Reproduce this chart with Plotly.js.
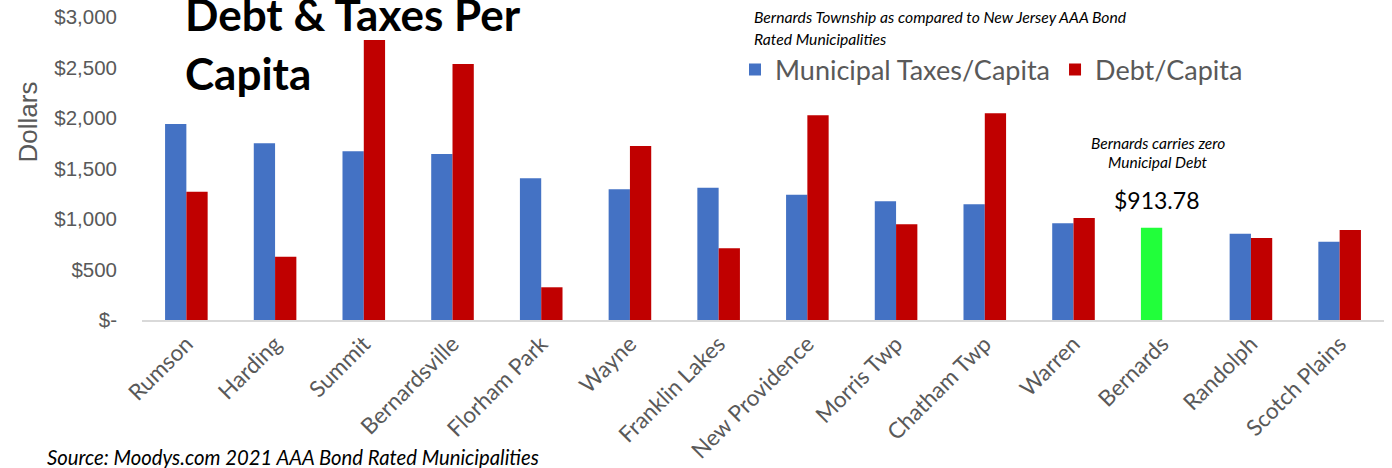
<!DOCTYPE html>
<html>
<head>
<meta charset="utf-8">
<script src="https://cdn.plot.ly/plotly-3.0.1.min.js"></script>
<style>html,body{margin:0;padding:0;background:#fff;}#chart{width:1392px;height:468px;}</style>
</head>
<body>
<div id="chart"></div>
<script>
const categories = ["Rumson","Harding","Summit","Bernardsville","Florham Park","Wayne","Franklin Lakes","New Providence","Morris Twp","Chatham Twp","Warren","Bernards","Randolph","Scotch Plains"];
const taxesPerCapita = [1940, 1750, 1670, 1644, 1403, 1294, 1310, 1241, 1175, 1146, 957, 913.78, 855, 775];
const debtPerCapita  = [1270, 627, 2772, 2535, 324, 1723, 710, 2027, 947, 2046, 1010, 0, 812, 891];
const yTickVals = [0, 500, 1000, 1500, 2000, 2500, 3000];
const yTickText = ["$-", "$500", "$1,000", "$1,500", "$2,000", "$2,500", "$3,000"];
const highlightTown = "Bernards";

const BLUE = "#4472C4", RED = "#C00000", GREEN = "#21FF3A";
const taxColors = categories.map(c => c === highlightTown ? GREEN : BLUE);

// plot area in pixels
const L = 142, R = 1384, T = 17, B = 320;
const px = x => (x - L) / (R - L);
const py = y => (B - y) / (B - T);

const traces = [
  {type: "bar", name: "Municipal Taxes/Capita", x: categories, y: taxesPerCapita,
   marker: {color: taxColors, line: {width: 0}}, hoverinfo: "x+y"},
  {type: "bar", name: "Debt/Capita", x: categories, y: debtPerCapita,
   marker: {color: RED, line: {width: 0}}, hoverinfo: "x+y"}
];

const gray = "#595959";
const hi = categories.indexOf(highlightTown);
const layout = {
  width: 1392, height: 468,
  margin: {l: L, r: 1392 - R, t: T, b: 468 - B, pad: 0},
  paper_bgcolor: "#fff", plot_bgcolor: "#fff",
  barmode: "group", bargap: 0.52, bargroupgap: 0,
  showlegend: true,
  legend: {orientation: "h", x: px(735), xanchor: "left", y: py(70), yanchor: "middle",
           font: {family: "Lato, sans-serif", size: 27, color: gray}, bgcolor: "rgba(0,0,0,0)",
           traceorder: "normal"},
  xaxis: {type: "category", showgrid: false, zeroline: false, showline: true,
          linecolor: "#d9d9d9", linewidth: 2, ticks: "", tickangle: -45,
          tickfont: {family: "Lato, sans-serif", size: 22.5, color: gray}},
  yaxis: {range: [0, 3000], showgrid: false, zeroline: false, showline: false,
          tickvals: yTickVals, ticktext: yTickText, ticks: "",
          ticklabelstandoff: 24,
          tickfont: {family: "Liberation Sans, Arial, sans-serif", size: 20.5, color: gray}},
  annotations: [
    {text: "Dollars", textangle: -90, xref: "paper", yref: "paper", x: px(27), y: py(122.5),
     xanchor: "center", yanchor: "middle", showarrow: false,
     font: {family: "Liberation Sans, Arial, sans-serif", size: 26, color: gray}},
    {text: "<b>Debt & Taxes Per</b>", xref: "paper", yref: "paper", x: px(183), y: py(14),
     xanchor: "left", yanchor: "middle", showarrow: false,
     font: {family: "Lato, sans-serif", size: 44, color: "#000"}},
    {text: "<b>Capita</b>", xref: "paper", yref: "paper", x: px(183), y: py(73),
     xanchor: "left", yanchor: "middle", showarrow: false,
     font: {family: "Lato, sans-serif", size: 44, color: "#000"}},
    {text: "<i>Bernards Township as compared to New Jersey AAA Bond</i>", xref: "paper", yref: "paper",
     x: px(752), y: py(17), xanchor: "left", yanchor: "middle", showarrow: false,
     font: {family: "Lato, sans-serif", size: 15.7, color: "#000"}},
    {text: "<i>Rated Municipalities</i>", xref: "paper", yref: "paper",
     x: px(752), y: py(38.5), xanchor: "left", yanchor: "middle", showarrow: false,
     font: {family: "Lato, sans-serif", size: 15.7, color: "#000"}},
    {text: "<i>Bernards carries zero</i>", xref: "paper", yref: "paper",
     x: px(1158), y: py(143), xanchor: "center", yanchor: "middle", showarrow: false,
     font: {family: "Lato, sans-serif", size: 15.5, color: "#000"}},
    {text: "<i>Municipal Debt</i>", xref: "paper", yref: "paper",
     x: px(1158), y: py(162), xanchor: "center", yanchor: "middle", showarrow: false,
     font: {family: "Lato, sans-serif", size: 15.5, color: "#000"}},
    {text: "$" + taxesPerCapita[hi].toFixed(2), xref: "x", yref: "y",
     x: highlightTown, y: taxesPerCapita[hi],
     xanchor: "center", yanchor: "bottom", xshift: -6, yshift: 12, showarrow: false,
     font: {family: "Lato, sans-serif", size: 23, color: "#000"}},
    {text: "<i>Source: Moodys.com 2021 AAA Bond Rated Municipalities</i>", xref: "paper", yref: "paper",
     x: px(45), y: py(457), xanchor: "left", yanchor: "middle", showarrow: false,
     font: {family: "Lato, sans-serif", size: 20.3, color: "#000"}}
  ]
};

Plotly.newPlot("chart", traces, layout, {displayModeBar: false, staticPlot: true});
</script>
</body>
</html>
